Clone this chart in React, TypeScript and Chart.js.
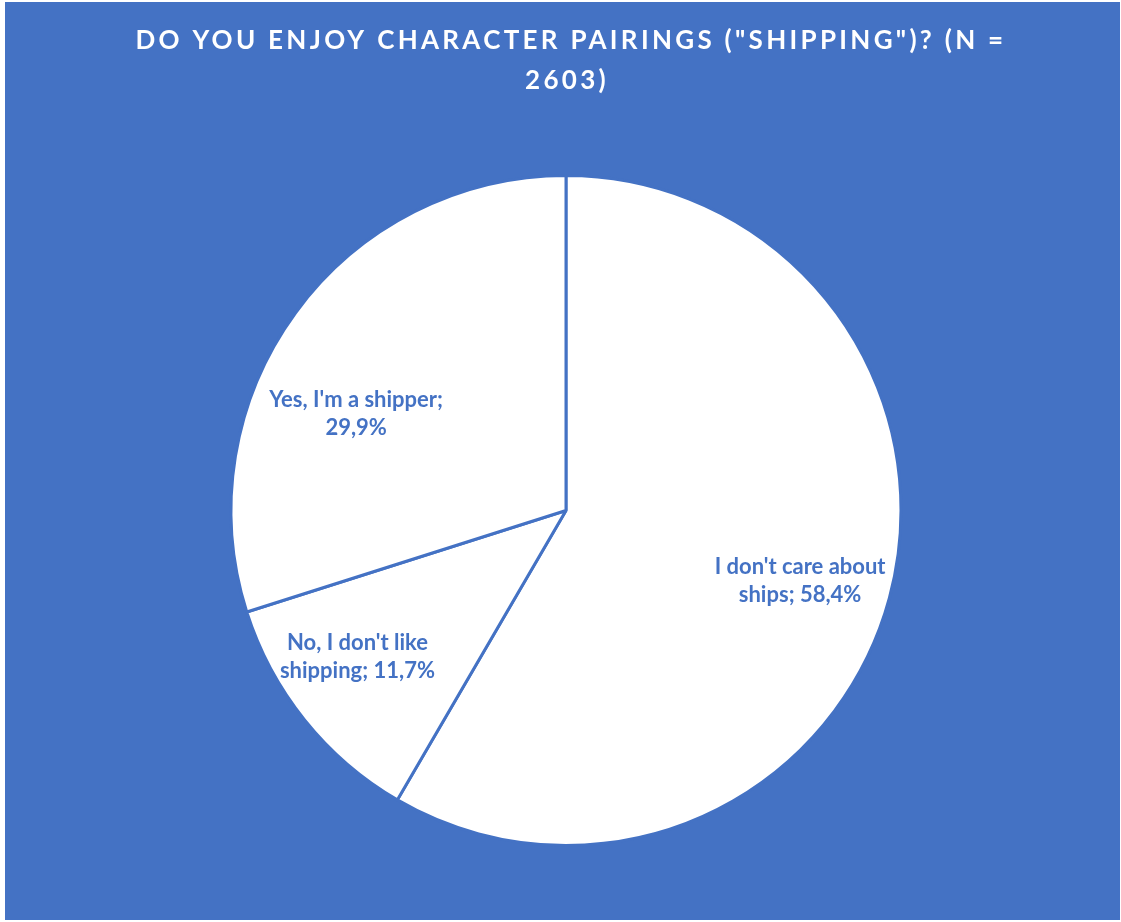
import React, { useEffect, useRef } from "react";
import { Chart, registerables } from "chart.js";

Chart.register(...registerables);

const titleLines = ['DO YOU ENJOY CHARACTER PAIRINGS ("SHIPPING")? (N =', "2603)"];
const categories = ["I don't care about ships", "No, I don't like shipping", "Yes, I'm a shipper"];
const labelLines = [
  ["I don't care about", "ships; 58,4%"],
  ["No, I don't like", "shipping; 11,7%"],
  ["Yes, I'm a shipper;", "29,9%"],
];
const percentages = [58.4, 11.7, 29.9];

const BLUE = "#4472C4";
const labelNudgeDeg = [1.7, 3.7, -11.4];
const labelRadiusFrac = [0.73, 0.76, 0.69];

const titlePlugin = {
  id: "customTitle",
  afterDraw(chart: any) {
    const ctx = chart.ctx;
    ctx.save();
    ctx.fillStyle = "#ffffff";
    ctx.font = "bold 26px Lato";
    (ctx as any).letterSpacing = "3.3px";
    ctx.textAlign = "center";
    ctx.textBaseline = "alphabetic";
    const cx = 566;
    ctx.fillText(titleLines[0], cx, 47);
    ctx.fillText(titleLines[1], cx - 4, 87);
    ctx.restore();
  },
};

const labelPlugin = {
  id: "sliceLabels",
  afterDatasetsDraw(chart: any) {
    const ctx = chart.ctx;
    const meta = chart.getDatasetMeta(0);
    ctx.save();
    ctx.fillStyle = BLUE;
    ctx.font = "bold 22px Lato";
    ctx.textAlign = "center";
    ctx.textBaseline = "middle";
    meta.data.forEach((arc: any, i: number) => {
      const p = arc.getProps(["x", "y", "startAngle", "endAngle", "outerRadius"], true);
      const mid = (p.startAngle + p.endAngle) / 2 + (labelNudgeDeg[i] * Math.PI) / 180;
      const r = p.outerRadius * labelRadiusFrac[i];
      const lx = p.x + r * Math.cos(mid);
      const ly = p.y + r * Math.sin(mid);
      const lines = labelLines[i];
      const lh = 28;
      lines.forEach((t, k) => {
        ctx.fillText(t, lx, ly + (k - (lines.length - 1) / 2) * lh);
      });
    });
    ctx.restore();
  },
};

export default function App() {
  const ref = useRef<HTMLCanvasElement | null>(null);
  useEffect(() => {
    document.body.style.margin = "0";
    const chart = new Chart(ref.current as HTMLCanvasElement, {
      type: "pie",
      data: {
        labels: categories,
        datasets: [
          {
            data: percentages,
            backgroundColor: "#ffffff",
            borderColor: BLUE,
            borderWidth: 3,
          },
        ],
      },
      options: {
        responsive: false,
        animation: false,
        layout: { padding: { left: 7, right: 0, top: 172, bottom: 73 } },
        plugins: {
          legend: { display: false },
          tooltip: { enabled: false },
          title: { display: false },
        },
      },
      plugins: [titlePlugin, labelPlugin],
    });
    return () => chart.destroy();
  }, []);
  return (
    <div
      style={{
        position: "absolute",
        left: 5,
        top: 2,
        width: 1115,
        height: 918,
        background: BLUE,
      }}
    >
      <canvas ref={ref} width={1115} height={918} style={{ display: "block" }} />
    </div>
  );
}
